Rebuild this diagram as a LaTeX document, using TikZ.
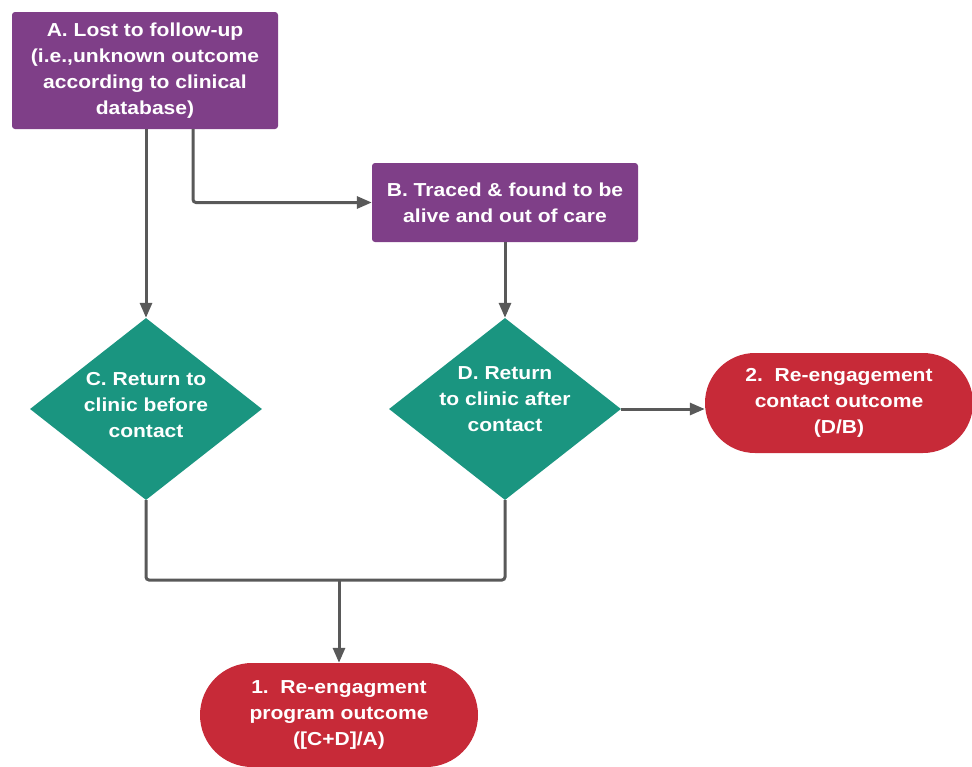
\documentclass[tikz,border=0pt]{standalone}
\usepackage{fontspec}
\setmainfont{Liberation Sans}[FakeStretch=1.12]
\usetikzlibrary{shapes.geometric,shapes.misc,arrows.meta}
\definecolor{purp}{HTML}{7F3F88}
\definecolor{tealc}{HTML}{1A9580}
\definecolor{redd}{HTML}{C72A38}
\definecolor{linec}{HTML}{595959}
\tikzset{
  txt/.style={text=white,font=\fontsize{18.8}{26}\selectfont\bfseries,align=center},
  box/.style={txt,draw=none,fill=purp,rounded corners=3pt,inner sep=0pt},
  dia/.style={diamond,fill=tealc,inner sep=0pt,minimum width=232pt,minimum height=182pt},
  pill/.style={txt,rounded rectangle,fill=redd,inner sep=0pt},
  conn/.style={draw=linec,line width=3pt,-{Triangle[length=15pt,width=12pt]},rounded corners=3pt}
}
\begin{document}
\begin{tikzpicture}[x=1pt,y=-1pt]
\useasboundingbox (0,0) rectangle (972,766);
\node[box,minimum width=266pt,minimum height=117pt] (A) at (145,70.5) {A. Lost to follow-up\\(i.e.,unknown outcome\\according to clinical\\database)};
\node[box,minimum width=266pt,minimum height=79pt] (B) at (505,202.5) {B. Traced \& found to be\\alive and out of care};
\node[dia] (C) at (146,409) {};
\node[txt] (Ct) at (146,405) {C. Return to\\clinic before\\contact};
\node[dia] (D) at (505,409) {};
\node[txt] (Dt) at (505,399) {D. Return\\to clinic after\\contact};
\node[pill,minimum width=268pt,minimum height=100pt] (E) at (839,403) {2.\ \ Re-engagement\\contact outcome\\(D/B)};
\node[pill,minimum width=278pt,minimum height=104pt] (F) at (339,715) {1.\ \ Re-engagment\\program outcome\\([C+D]/A)};
\coordinate (A1) at (146,129);
\coordinate (A2) at (193,129);
\coordinate (J) at (339,580);
\draw[conn] (A1) -- (C.north);
\draw[conn] (A2) |- (B.west);
\draw[conn] (B.south) -- (D.north);
\draw[conn] (D.east) -- (D.east -| E.west);
\draw[draw=linec,line width=3pt,rounded corners=3pt] (C.south) |- (J) -| (D.south);
\draw[conn] (J) -- (F.north);
\end{tikzpicture}
\end{document}
